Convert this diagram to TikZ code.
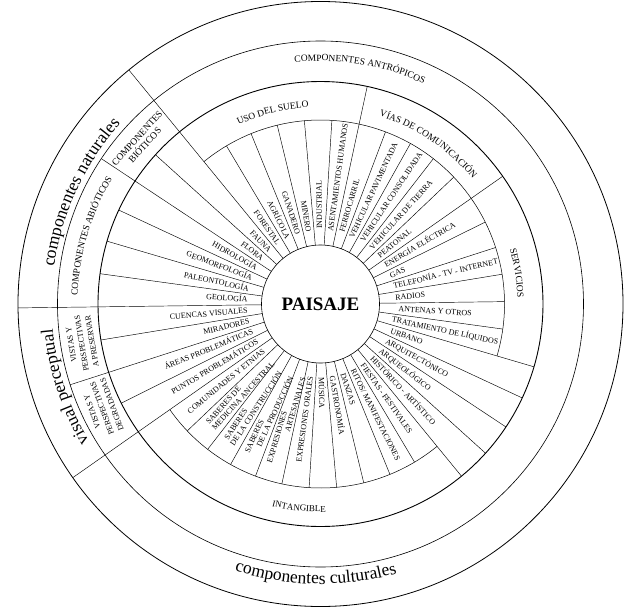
\documentclass[tikz,border=0pt]{standalone}
\usepackage{fontspec}
\setmainfont{Liberation Serif}
\usetikzlibrary{calc,decorations.text}
\tikzset{
    spoke/.style={black, line width=0.45pt},
    itemout/.style={font=\fontsize{8}{8}\selectfont, inner sep=1pt, text height=5.3pt, text depth=0pt, anchor=west},
    itemin/.style={font=\fontsize{8}{8}\selectfont, inner sep=1pt, text height=5.3pt, text depth=0pt, anchor=east},
    grouplabel/.style={font=\fontsize{9.5}{10.5}\selectfont, inner sep=0pt, align=center},
    smalllabel/.style={font=\fontsize{8}{10.5}\selectfont, inner sep=0pt, align=center},
    curvedlabel/.style={decorate, decoration={text along path, text align=center, text={#1}}}
}
\begin{document}
\begin{tikzpicture}
        \useasboundingbox (-320.5pt,-307pt) rectangle (316.5pt,304pt);

        \draw[line width=0.8pt] (0,0) circle[radius=302.5pt];
        \draw[line width=0.6pt] (0,0) circle[radius=263pt];
        \draw[line width=0.9pt] (0,0) circle[radius=222.5pt];
        \draw[line width=0.5pt] (-16.40:184pt) arc[start angle=-16.40, end angle=129.31, radius=184pt];
        \draw[line width=0.5pt] (215.03:184pt) arc[start angle=215.03, end angle=309.31, radius=184pt];

        \node[circle, draw, line width=0.6pt, minimum size=118pt, inner sep=0pt, font=\fontsize{19}{19}\selectfont\bfseries] (paisaje) at (0,0) {PAISAJE};

        \draw[spoke] (0.74:59pt) -- (0.74:184pt);
        \draw[spoke] (9.31:59pt) -- (9.31:184pt);
        \draw[spoke] (17.88:59pt) -- (17.88:184pt);
        \draw[spoke] (26.45:59pt) -- (26.45:184pt);
        \draw[spoke] (35.03:59pt) -- (35.03:222.5pt);
        \draw[spoke] (43.60:59pt) -- (43.60:184pt);
        \draw[spoke] (52.17:59pt) -- (52.17:184pt);
        \draw[spoke] (60.74:59pt) -- (60.74:184pt);
        \draw[spoke] (69.31:59pt) -- (69.31:184pt);
        \draw[spoke] (77.88:59pt) -- (77.88:222.5pt);
        \draw[spoke] (86.45:59pt) -- (86.45:184pt);
        \draw[spoke] (95.03:59pt) -- (95.03:184pt);
        \draw[spoke] (103.60:59pt) -- (103.60:184pt);
        \draw[spoke] (112.17:59pt) -- (112.17:184pt);
        \draw[spoke] (120.74:59pt) -- (120.74:184pt);
        \draw[spoke] (129.31:59pt) -- (129.31:302.5pt);
        \draw[spoke] (137.88:59pt) -- (137.88:222.5pt);
        \draw[spoke] (146.45:59pt) -- (146.45:263pt);
        \draw[spoke] (155.03:59pt) -- (155.03:222.5pt);
        \draw[spoke] (163.60:59pt) -- (163.60:222.5pt);
        \draw[spoke] (172.17:59pt) -- (172.17:222.5pt);
        \draw[spoke] (180.74:59pt) -- (180.74:302.5pt);
        \draw[spoke] (189.31:59pt) -- (189.31:222.5pt);
        \draw[spoke] (197.88:59pt) -- (197.88:263pt);
        \draw[spoke] (206.45:59pt) -- (206.45:222.5pt);
        \draw[spoke] (215.03:59pt) -- (215.03:302.5pt);
        \draw[spoke] (223.60:59pt) -- (223.60:184pt);
        \draw[spoke] (232.17:59pt) -- (232.17:184pt);
        \draw[spoke] (240.74:59pt) -- (240.74:184pt);
        \draw[spoke] (249.31:59pt) -- (249.31:184pt);
        \draw[spoke] (257.88:59pt) -- (257.88:184pt);
        \draw[spoke] (266.45:59pt) -- (266.45:184pt);
        \draw[spoke] (275.03:59pt) -- (275.03:184pt);
        \draw[spoke] (283.60:59pt) -- (283.60:184pt);
        \draw[spoke] (292.17:59pt) -- (292.17:184pt);
        \draw[spoke] (300.74:59pt) -- (300.74:184pt);
        \draw[spoke] (309.31:59pt) -- (309.31:222.5pt);
        \draw[spoke] (317.88:59pt) -- (317.88:222.5pt);
        \draw[spoke] (326.45:59pt) -- (326.45:222.5pt);
        \draw[spoke] (335.03:59pt) -- (335.03:222.5pt);
        \draw[spoke] (343.60:59pt) -- (343.60:222.5pt);
        \draw[spoke] (352.17:59pt) -- (352.17:184pt);

        \node[itemout, rotate=5.03] (radios) at (5.03:74pt) {RADIOS};
        \node[itemout, rotate=13.60] (telefonia) at (13.60:74pt) {TELEFONÍA - TV - INTERNET};
        \node[itemout, rotate=22.17] (gas) at (22.17:74pt) {GAS};
        \node[itemout, rotate=30.74] (energia) at (30.74:74pt) {ENERGÍA ELÉCTRICA};
        \node[itemout, rotate=39.31] (peatonal) at (39.31:74pt) {PEATONAL};
        \node[itemout, rotate=47.88] (tierra) at (47.88:74pt) {VEHICULAR DE TIERRA};
        \node[itemout, rotate=56.45] (consolidada) at (56.45:74pt) {VEHICULAR CONSOLIDADA};
        \node[itemout, rotate=65.03] (pavimentada) at (65.03:72pt) {VEHICULAR PAVIMENTADA};
        \node[itemout, rotate=73.60] (ferrocarril) at (73.60:74pt) {FERROCARRIL};
        \node[itemout, rotate=82.17] (asentamientos) at (82.17:72pt) {ASENTAMIENTOS HUMANOS};
        \node[itemout, rotate=90.74] (industrial) at (90.74:74pt) {INDUSTRIAL};
        \node[itemin, rotate=-80.69] (minero) at (99.31:72pt) {MINERO};
        \node[itemin, rotate=-72.12] (ganadero) at (107.88:72pt) {GANADERO};
        \node[itemin, rotate=-63.55] (agricola) at (116.45:72pt) {AGRÍCOLA};
        \node[itemin, rotate=-54.97] (forestal) at (125.03:72pt) {FORESTAL};
        \node[itemin, rotate=-46.40] (fauna) at (133.60:72pt) {FAUNA};
        \node[itemin, rotate=-37.83] (flora) at (142.17:72pt) {FLORA};
        \node[itemin, rotate=-29.26] (hidrologia) at (150.74:72pt) {HIDROLOGÍA};
        \node[itemin, rotate=-20.69] (geomorfologia) at (159.31:72pt) {GEOMORFOLOGÍA};
        \node[itemin, rotate=-12.12] (paleontologia) at (167.88:72pt) {PALEONTOLOGÍA};
        \node[itemin, rotate=-3.55] (geologia) at (176.45:72pt) {GEOLOGÍA};
        \node[itemin, rotate=5.03] (cuencas) at (185.03:72pt) {CUENCAS VISUALES};
        \node[itemin, rotate=13.60] (miradores) at (193.60:72pt) {MIRADORES};
        \node[itemin, rotate=22.17] (areas) at (202.17:72pt) {ÁREAS PROBLEMÁTICAS};
        \node[itemin, rotate=30.74] (puntos) at (210.74:72pt) {PUNTOS PROBLEMÁTICOS};
        \node[itemin, rotate=39.31] (comunidades) at (219.31:72pt) {COMUNIDADES Y ETNIAS};
        \node[itemin, rotate=47.88] (medicina a) at ($(227.88:115pt)+(137.88:4.2pt)$) {SABERES DE};
        \node[itemin, rotate=47.88] (medicina b) at ($(227.88:74pt)+(317.88:4.2pt)$) {MEDICINA ANCESTRAL};
        \node[itemin, rotate=56.45] (construccion a) at ($(236.45:128pt)+(146.45:4.2pt)$) {SABERES};
        \node[itemin, rotate=56.45] (construccion b) at ($(236.45:78pt)+(326.45:4.2pt)$) {DE LA CONSTRUCCIÓN};
        \node[itemin, rotate=65.03] (produccion a) at ($(245.03:129pt)+(155.03:4.2pt)$) {SABERES};
        \node[itemin, rotate=65.03] (produccion b) at ($(245.03:77pt)+(335.03:4.2pt)$) {DE LA PRODUCCIÓN};
        \node[itemin, rotate=73.60] (artesanales a) at ($(253.60:112pt)+(163.60:4.2pt)$) {EXPRESIONES};
        \node[itemin, rotate=73.60] (artesanales b) at ($(253.60:74pt)+(343.60:4.2pt)$) {ARTESANALES};
        \node[itemin, rotate=82.17] (orales) at (262.17:72pt) {EXPRESIONES ORALES};
        \node[itemout, rotate=270.74] (musica) at (270.74:72pt) {MÚSICA};
        \node[itemout, rotate=279.31] (gastronomia) at (279.31:72pt) {GASTRONOMÍA};
        \node[itemout, rotate=287.88] (danzas) at (287.88:72pt) {DANZAS};
        \node[itemout, rotate=296.45] (ritos) at (296.45:72pt) {RITOS/ MANIFESTACIONES};
        \node[itemout, rotate=305.03] (fiestas) at (305.03:72pt) {FIESTAS - FESTIVALES};
        \node[itemout, rotate=313.60] (historico) at (313.60:73pt) {HISTÓRICO - ARTÍSTICO};
        \node[itemout, rotate=322.17] (arqueologico) at (322.17:74pt) {ARQUEOLÓGICO};
        \node[itemout, rotate=330.74] (arquitectonico) at (330.74:74pt) {ARQUITECTÓNICO};
        \node[itemout, rotate=339.31] (urbano) at (339.31:74pt) {URBANO};
        \node[itemout, rotate=347.88] (liquidos) at (347.88:72pt) {TRATAMIENTO DE LÍQUIDOS};
        \node[itemout, rotate=356.45] (antenas) at (356.45:77pt) {ANTENAS Y OTROS};

        \path[curvedlabel={|\fontsize{9.5}{9.5}\selectfont|USO DEL SUELO}] (124:197pt) arc[start angle=124, end angle=84, radius=197pt];
        \path[curvedlabel={|\fontsize{9.5}{9.5}\selectfont|VÍAS DE COMUNICACIÓN}] (78:197pt) arc[start angle=78, end angle=34, radius=197pt];
        \path[curvedlabel={|\fontsize{9.5}{9.5}\selectfont|SERVICIOS}] (24:197pt) arc[start angle=24, end angle=-6, radius=197pt];
        \path[curvedlabel={|\fontsize{9}{9}\selectfont|INTANGIBLE}] (244:208pt) arc[start angle=244, end angle=284, radius=208pt];
        \path[curvedlabel={|\fontsize{9.5}{9.5}\selectfont|COMPONENTES ANTRÓPICOS}] (106:243pt) arc[start angle=106, end angle=55, radius=243pt];
        \path[curvedlabel={|\fontsize{9.5}{9.5}\selectfont|COMPONENTES ABIÓTICOS}] (184:243pt) arc[start angle=184, end angle=143, radius=243pt];

        \node[grouplabel, rotate=47.88] (bioticos) at (137.88:242pt) {COMPONENTES\\BIÓTICOS};
        \node[smalllabel, rotate=99.31] (preservar) at (189.31:242pt) {VISTAS Y\\PERSPECTIVAS\\A PRESERVAR};
        \node[smalllabel, rotate=110] (degradadas) at (205.5:242pt) {VISTAS Y\\PERSPECTIVAS\\DEGRADADAS};

        \path[curvedlabel={|\fontsize{17.5}{17.5}\selectfont|componentes naturales}] (180:269pt) arc[start angle=180, end angle=130, radius=269pt];
        \path[curvedlabel={|\fontsize{17.5}{17.5}\selectfont|visual perceptual}] (218:269pt) arc[start angle=218, end angle=178, radius=269pt];
        \path[curvedlabel={|\fontsize{17.5}{17.5}\selectfont|componentes culturales}] (244:280pt) arc[start angle=244, end angle=294, radius=280pt];
\end{tikzpicture}
\end{document}
